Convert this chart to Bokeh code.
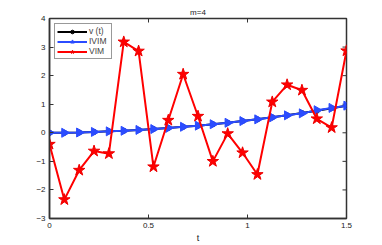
from bokeh.plotting import figure
from bokeh.models import Range1d, FixedTicker, Legend, LegendItem, ColumnDataSource
from bokeh.embed import file_html
from bokeh.resources import INLINE
import math

t = [0, 0.075, 0.15, 0.225, 0.3, 0.375, 0.45, 0.525, 0.6, 0.675, 0.75,
     0.825, 0.9, 0.975, 1.05, 1.125, 1.2, 1.275, 1.35, 1.425, 1.5]
v_exact = [0.0, 0.0, 0.01, 0.03, 0.05, 0.07, 0.1, 0.13, 0.17, 0.21, 0.25,
           0.3, 0.35, 0.41, 0.47, 0.54, 0.61, 0.69, 0.77, 0.86, 0.95]
ivim = [0.0, 0.0, 0.01, 0.03, 0.05, 0.07, 0.1, 0.13, 0.17, 0.21, 0.25,
        0.3, 0.35, 0.41, 0.47, 0.54, 0.61, 0.68, 0.79, 0.87, 0.95]
vim = [-0.40, -2.34, -1.31, -0.64, -0.73, 3.18, 2.86, -1.19, 0.44, 2.05, 0.58,
       -1.0, -0.03, -0.70, -1.46, 1.08, 1.68, 1.49, 0.49, 0.18, 2.87]
x_ticks = [0, 0.5, 1, 1.5]
y_ticks = [-3, -2, -1, 0, 1, 2, 3, 4]
labels = ["v (t)", "IVIM", "VIM"]
x_min, x_max = 0, 1.5
y_min, y_max = -3, 4

FONT = "Liberation Sans"
AX = "#333333"
TXT = "#222222"

p = figure(width=382, height=245, output_backend="svg", toolbar_location=None,
           x_range=Range1d(x_min, x_max), y_range=Range1d(y_min, y_max),
           min_border_left=49, min_border_right=36, min_border_top=18,
           min_border_bottom=27, x_axis_label="t")
p.title.text = "m=4"
p.title.align = "center"
p.title.text_font = FONT
p.title.text_font_size = "8px"
p.title.text_font_style = "normal"
p.title.text_color = TXT
p.title.standoff = 3
p.xgrid.visible = False
p.ygrid.visible = False
p.outline_line_color = AX
p.outline_line_width = 1.5
p.background_fill_color = "white"
p.border_fill_color = "white"

for ax, ticks in ((p.xaxis[0], x_ticks), (p.yaxis[0], y_ticks)):
    ax.ticker = FixedTicker(ticks=ticks)
    ax.major_tick_in = 4
    ax.major_tick_out = 0
    ax.minor_tick_line_color = None
    ax.axis_line_color = AX
    ax.axis_line_width = 1.5
    ax.major_tick_line_color = AX
    ax.major_label_text_font = FONT
    ax.major_label_text_font_size = "8px"
    ax.major_label_text_color = TXT
    ax.major_label_standoff = 4
    ax.axis_label_text_font = FONT
    ax.axis_label_text_font_size = "9px"
    ax.axis_label_text_font_style = "normal"
    ax.axis_label_text_color = TXT
    ax.axis_label_standoff = 2

# ticks on the right and top edges of the box (half of each dash is clipped by the frame)
p.scatter(x=[x_max] * len(y_ticks), y=y_ticks, marker="dash", size=8,
          line_color=AX, line_width=1)
p.scatter(x=x_ticks, y=[y_max] * len(x_ticks), marker="dash", size=8, angle=math.pi / 2,
          line_color=AX, line_width=1)

src = ColumnDataSource(dict(t=t, v=v_exact, ivim=ivim, vim=vim))

l1 = p.line("t", "v", source=src, line_color="black", line_width=2)
s1 = p.scatter("t", "v", source=src, marker="circle", size=5, fill_color="black", line_color="black")
l2 = p.line("t", "ivim", source=src, line_color="#2b4cff", line_width=2)
s2 = p.scatter("t", "ivim", source=src, marker="triangle", size=9, angle=-math.pi / 2,
               fill_color="#2b4cff", line_color="#2b4cff")
l3 = p.line("t", "vim", source=src, line_color="#ff0000", line_width=2)
s3 = p.scatter("t", "vim", source=src, marker="star", size=12,
               fill_color="#ff0000", line_color="#ee0000")

legend = Legend(items=[LegendItem(label=labels[0], renderers=[l1, s1]),
                       LegendItem(label=labels[1], renderers=[l2, s2]),
                       LegendItem(label=labels[2], renderers=[l3, s3])],
                location="top_left")
legend.label_text_font = FONT
legend.label_text_font_size = "8.5px"
legend.label_height = 8
legend.glyph_width = 30
legend.glyph_height = 9
legend.spacing = 0
legend.padding = 2
legend.margin = 5
legend.label_standoff = 2
legend.border_line_color = AX
legend.border_line_width = 1
legend.background_fill_alpha = 1
p.add_layout(legend)

open("out.html", "w").write(file_html(p, INLINE))
